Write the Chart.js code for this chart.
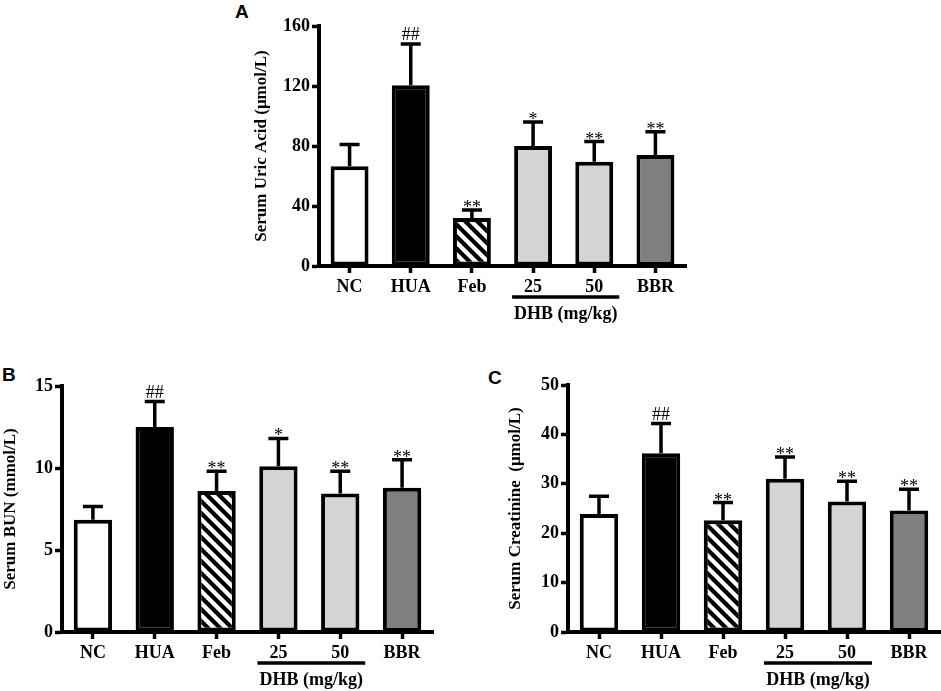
<!DOCTYPE html>
<html>
<head>
<meta charset="utf-8">
<script src="https://cdn.jsdelivr.net/npm/chart.js@4.4.0/dist/chart.umd.min.js"></script>
<style>
  body { margin: 0; background: #fff; width: 941px; height: 691px; overflow: hidden; position: relative; }
  canvas { position: absolute; }
  .panel { position: absolute; font: bold 19px "Liberation Sans", Arial, sans-serif; }
</style>
</head>
<body>
<div class="panel" style="left:235px;top:1px;">A</div>
<div class="panel" style="left:2px;top:364px;">B</div>
<div class="panel" style="left:488px;top:367px;">C</div>
<canvas id="chartA" width="470" height="330" style="left:220px;top:0px;"></canvas>
<canvas id="chartB" width="470" height="331" style="left:0px;top:360px;"></canvas>
<canvas id="chartC" width="471" height="331" style="left:470px;top:360px;"></canvas>
<script>
// Data
//==============================
var categories = ["NC", "HUA", "Feb", "25", "50", "BBR"];

var uricMean = [66.5, 120.5, 32, 80, 69.5, 74];
var uricSD = [14.5, 27.5, 5.3, 16, 13.5, 15.5];
var uricSig = ["", "##", "**", "*", "**", "**"];

var bunMean = [6.85, 12.5, 8.6, 10.1, 8.45, 8.8];
var bunSD = [0.8, 1.55, 1.2, 1.7, 1.35, 1.7];
var bunSig = ["", "##", "**", "*", "**", "**"];

var creMean = [23.9, 36.2, 22.6, 31, 26.4, 24.6];
var creSD = [3.6, 6.0, 3.6, 4.4, 4.1, 4.3];
var creSig = ["", "##", "**", "**", "**", "**"];

var groupLabel = "DHB (mg/kg)";

// Hatch pattern for the Feb bar
//==============================
function makeHatch() {
  var s = 12;
  var c = document.createElement("canvas");
  c.width = s;
  c.height = s;
  var g = c.getContext("2d");
  g.fillStyle = "#fff";
  g.fillRect(0, 0, s, s);
  g.strokeStyle = "#000";
  g.lineWidth = 4.2;
  for (var k = -1; k <= 1; k++) {
    g.beginPath();
    g.moveTo(k * s - 2, -2);
    g.lineTo(k * s + s + 2, s + 2);
    g.stroke();
  }
  return g.createPattern(c, "repeat");
}
var hatch = makeHatch();
var barColors = ["#ffffff", "#000000", hatch, "#d4d4d4", "#d4d4d4", "#7f7f7f"];

var serif = "'Liberation Serif', 'Times New Roman', serif";

// Error bars, significance marks and the DHB bracket
//==============================
var extrasPlugin = {
  id: "extras",
  afterDatasetsDraw: function (chart) {
    var ctx = chart.ctx;
    var x = chart.scales.x;
    var y = chart.scales.y;
    var o = chart.options.plugins.extras;
    ctx.save();
    ctx.strokeStyle = "#000";
    ctx.fillStyle = "#000";
    ctx.lineWidth = 3.5;
    for (var i = 0; i < o.mean.length; i++) {
      var cx = x.getPixelForValue(i);
      var top = y.getPixelForValue(o.mean[i] + o.sd[i]);
      ctx.beginPath();
      ctx.moveTo(cx, y.getPixelForValue(o.mean[i]));
      ctx.lineTo(cx, top);
      ctx.moveTo(cx - 10, top);
      ctx.lineTo(cx + 10, top);
      ctx.stroke();
      var s = o.sig[i];
      if (s) {
        ctx.textAlign = "center";
        ctx.textBaseline = "alphabetic";
        ctx.font = "18px " + serif;
        if (s.charAt(0) === "#") {
          ctx.fillText(s, cx, top - 4);
        } else {
          ctx.fillText(s, cx, top + 3);
        }
      }
    }
    // bracket under 25 / 50
    var x1 = x.getPixelForValue(3) - 21;
    var x2 = x.getPixelForValue(4) + 25;
    var by = y.getPixelForValue(0) + 31;
    ctx.beginPath();
    ctx.moveTo(x1, by);
    ctx.lineTo(x2, by);
    ctx.stroke();
    ctx.font = "bold 18px " + serif;
    ctx.textAlign = "center";
    ctx.textBaseline = "middle";
    ctx.fillText(groupLabel, (x1 + x2) / 2, by + 17);
    ctx.restore();
  }
};

function buildChart(id, mean, sd, sig, yMax, yStep, yTitle, box) {
  return new Chart(document.getElementById(id), {
    type: "bar",
    data: {
      labels: categories,
      datasets: [{
        data: mean,
        backgroundColor: barColors,
        borderColor: "#000",
        borderWidth: 4,
        borderSkipped: false,
        categoryPercentage: 1,
        barPercentage: 0.62
      }]
    },
    options: {
      responsive: false,
      animation: false,
      layout: { padding: { top: box.top, right: box.right, left: 0, bottom: 0 } },
      plugins: {
        legend: { display: false },
        tooltip: { enabled: false },
        extras: { mean: mean, sd: sd, sig: sig }
      },
      scales: {
        x: {
          afterFit: function (scale) { scale.height = box.xh; },
          border: { display: true, color: "#000", width: 4 },
          grid: { display: true, drawOnChartArea: false, drawTicks: true, offset: false, tickLength: 7, tickWidth: 3.5, tickColor: "#000" },
          ticks: { color: "#000", padding: 4, maxRotation: 0, font: { family: serif, size: 18, weight: "bold" } }
        },
        y: {
          min: 0,
          max: yMax,
          afterFit: function (scale) { scale.width = box.yw; },
          border: { display: true, color: "#000", width: 4 },
          grid: { display: true, drawOnChartArea: false, drawTicks: true, tickLength: 7, tickWidth: 3.5, tickColor: "#000" },
          ticks: { stepSize: yStep, color: "#000", padding: 2, font: { family: serif, size: 18, weight: "bold" } },
          title: { display: true, text: yTitle, color: "#000", padding: { top: box.tp, bottom: 0 }, font: { family: serif, size: 17, weight: "bold" } }
        }
      }
    },
    plugins: [extrasPlugin]
  });
}

// Charts
//==============================
buildChart("chartA", uricMean, uricSD, uricSig, 160, 40, "Serum Uric Acid (\u03bcmol/L)",
  { top: 26, right: 4, xh: 64, yw: 99, tp: 31 });
buildChart("chartB", bunMean, bunSD, bunSig, 15, 5, "Serum BUN (mmol/L)",
  { top: 26, right: 37, xh: 59, yw: 62, tp: 0 });
buildChart("chartC", creMean, creSD, creSig, 50, 10, "Serum Creatinine  (\u03bcmol/L)",
  { top: 25, right: 1, xh: 59, yw: 98, tp: 35 });
</script>
</body>
</html>
